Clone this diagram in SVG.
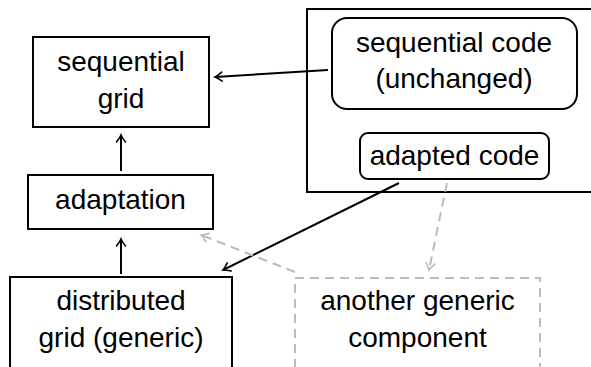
<svg xmlns="http://www.w3.org/2000/svg" width="591" height="367" viewBox="0 0 591 367">
<defs>
<marker id="ah" markerUnits="userSpaceOnUse" markerWidth="14" markerHeight="14" viewBox="-10 -7 12 14" refX="0" refY="0" orient="auto">
<path d="M -7 -4.5 Q -2.5 -1 0 0 Q -2.5 1 -7 4.5" fill="none" stroke="#000" stroke-width="1.6" stroke-linecap="round"/>
</marker>
<marker id="ahg" markerUnits="userSpaceOnUse" markerWidth="14" markerHeight="14" viewBox="-10 -7 12 14" refX="0" refY="0" orient="auto">
<path d="M -7 -4.5 Q -2.5 -1 0 0 Q -2.5 1 -7 4.5" fill="none" stroke="#bbbbbb" stroke-width="1.6" stroke-linecap="round"/>
</marker>
</defs>
<style>
.box{fill:#fff;stroke:#000;stroke-width:2}
.dbox{fill:none;stroke:#bbbbbb;stroke-width:2;stroke-dasharray:9 6}
.t{font-family:"Liberation Sans",Arial,sans-serif;font-size:28px;fill:#000;text-anchor:middle}
.c{fill:none;stroke:#000;stroke-width:2}
.g{fill:none;stroke:#bbbbbb;stroke-width:2;stroke-dasharray:9 6}
</style>
<rect width="591" height="367" fill="#fff"/>
<g id="outer">
<rect class="box" x="307" y="9" width="290" height="183"/>
</g>
<g id="seqcode">
<rect class="box" x="332" y="18" width="245" height="91" rx="15"/>
<text class="t" x="454" y="52">sequential code</text>
<text class="t" x="454" y="88">(unchanged)</text>
</g>
<g id="adaptedcode">
<rect class="box" x="360" y="133" width="189" height="46" rx="8"/>
<text class="t" x="454.5" y="165">adapted code</text>
</g>
<g id="seqgrid">
<rect class="box" x="33" y="37" width="176" height="90"/>
<text class="t" x="121" y="71">sequential</text>
<text class="t" x="121" y="108">grid</text>
</g>
<g id="adaptation">
<rect class="box" x="28" y="175" width="185" height="54"/>
<text class="t" x="120.5" y="209">adaptation</text>
</g>
<g id="distgrid">
<rect class="box" x="10" y="277" width="222" height="100"/>
<text class="t" x="121" y="310">distributed</text>
<text class="t" x="121" y="347">grid (generic)</text>
</g>
<g id="another">
<rect class="dbox" x="295" y="278" width="245" height="100"/>
<text class="t" x="417.5" y="310">another generic</text>
<text class="t" x="417.5" y="347">component</text>
</g>
<g id="connectors">
<line class="c" x1="328" y1="70" x2="215" y2="77" marker-end="url(#ah)"/>
<line class="c" x1="121" y1="171" x2="121" y2="135" marker-end="url(#ah)"/>
<line class="c" x1="121" y1="274" x2="121" y2="239" marker-end="url(#ah)"/>
<line class="c" x1="399" y1="183" x2="223" y2="270" marker-end="url(#ah)"/>
<line class="g" x1="447" y1="183" x2="429" y2="270" marker-end="url(#ahg)"/>
<line class="g" x1="295" y1="272" x2="201" y2="235" marker-end="url(#ahg)"/>
</g>
</svg>
